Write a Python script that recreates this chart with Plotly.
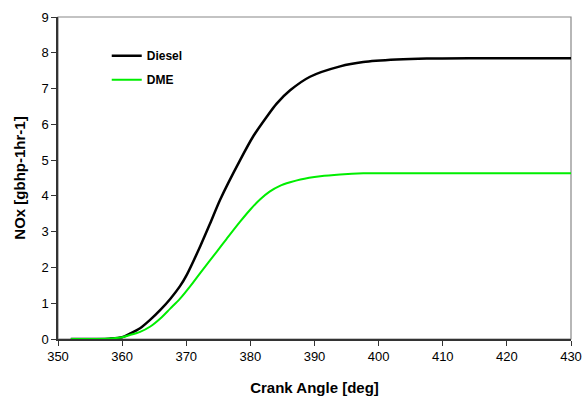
import plotly.graph_objects as go

diesel_x = [352, 356, 358, 360, 361.2, 362.8, 364.4, 366.0, 367.5, 369.0, 370.1, 372.2, 373.7, 375.3, 378.4, 380.5, 382.5, 384.1, 386.2, 389.3, 394.0, 397.6, 402.8, 407.5, 415, 430]
diesel_y = [0.0, 0.0, 0.01, 0.05, 0.15, 0.30, 0.54, 0.82, 1.12, 1.47, 1.80, 2.60, 3.22, 3.90, 5.00, 5.68, 6.20, 6.58, 6.95, 7.33, 7.62, 7.74, 7.81, 7.84, 7.85, 7.85]

dme_x = [352, 356, 358.6, 360, 361.2, 362.8, 364.4, 366.0, 367.5, 369.0, 370.6, 372.2, 374.8, 376.3, 378.4, 380.0, 381.5, 383.0, 384.6, 386.2, 387.8, 390.9, 394.0, 397.6, 410, 430]
dme_y = [0.0, 0.0, 0.02, 0.05, 0.11, 0.20, 0.35, 0.58, 0.85, 1.12, 1.47, 1.85, 2.45, 2.80, 3.28, 3.62, 3.90, 4.12, 4.28, 4.38, 4.46, 4.55, 4.60, 4.63, 4.63, 4.63]

x_ticks = [350, 360, 370, 380, 390, 400, 410, 420, 430]
y_ticks = [0, 1, 2, 3, 4, 5, 6, 7, 8, 9]

fig = go.Figure()
fig.add_trace(go.Scatter(x=diesel_x, y=diesel_y, mode="lines", name="Diesel", legendgroup="a",
                         line=dict(color="black", width=2.5, shape="spline", smoothing=0.8)))
fig.add_trace(go.Scatter(x=dme_x, y=dme_y, mode="lines", name="DME", legendgroup="b",
                         line=dict(color="#00ee00", width=2, shape="spline", smoothing=0.8)))

font_family = "Liberation Sans, Arial, sans-serif"
fig.update_layout(
    width=585, height=405,
    margin=dict(l=58, r=14, t=17, b=66, autoexpand=False),
    paper_bgcolor="white", plot_bgcolor="white",
    font=dict(family=font_family, size=13, color="black"),
    showlegend=True,
    legend=dict(x=0.095, y=0.925, xanchor="left", yanchor="top",
                bgcolor="rgba(0,0,0,0)", font=dict(size=12, family=font_family, weight="bold"),
                itemwidth=30, tracegroupgap=5),
    xaxis=dict(range=[350, 430], tickvals=x_ticks, ticks="outside", ticklen=5, automargin=False,
               tickcolor="#333", linecolor="#333", linewidth=1.5, showgrid=False, zeroline=False,
               title=dict(text="Crank Angle [deg]", font=dict(size=15, weight="bold"), standoff=19)),
    yaxis=dict(range=[0, 9], tickvals=y_ticks, ticks="outside", ticklen=5, automargin=False,
               tickcolor="#333", linecolor="#333", linewidth=1.5, showgrid=False, zeroline=False,
               title=dict(text="NOx [gbhp-1hr-1]", font=dict(size=15, weight="bold"), standoff=12)),
    shapes=[dict(type="rect", xref="paper", yref="paper", x0=0, x1=1, y0=0, y1=1,
                 line=dict(color="#888", width=1.2), layer="below")],
)

fig.write_html("out.html")
